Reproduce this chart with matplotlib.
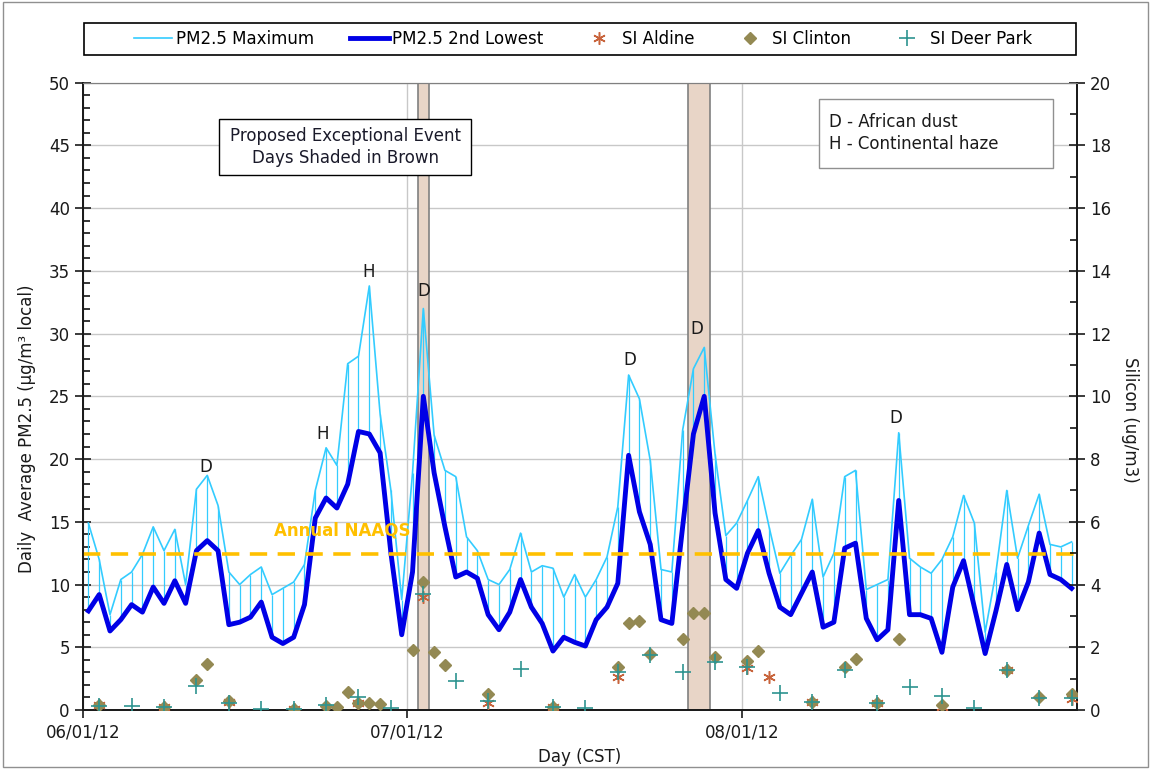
import matplotlib.pyplot as plt
import matplotlib.dates as mdates
from matplotlib.patches import Rectangle
from matplotlib.ticker import MultipleLocator
import numpy as np
import pandas as pd

# daily values, 06/01/12 .. 08/31/12 (plotted at midday)
days = pd.date_range('2012-06-01 12:00', periods=92, freq='D')

pm25_max = [14.9, 12.0, 7.6, 10.4, 11.0, 12.4, 14.6, 12.7, 14.4, 10.0,
            17.6, 18.7, 16.3, 11.0, 10.0, 10.8, 11.4, 9.2, 9.7, 10.2,
            11.6, 17.5, 20.9, 19.5, 27.6, 28.2, 33.8, 23.6, 17.5, 8.8,
            18.9, 32.0, 21.9, 19.1, 18.6, 13.8, 12.7, 10.4, 10.0, 11.2,
            14.1, 11.0, 11.5, 11.3, 9.0, 10.8, 9.0, 10.4, 12.2, 16.2,
            26.7, 24.8, 19.9, 11.2, 11.0, 22.3, 27.2, 28.9, 20.4, 13.9,
            14.9, 16.7, 18.6, 14.6, 10.9, 12.3, 13.6, 16.8, 10.6, 12.5,
            18.6, 19.1, 9.6, 10.0, 10.4, 22.1, 12.1, 11.4, 10.9, 12.0,
            13.8, 17.1, 14.9, 6.2, 11.0, 17.5, 12.1, 14.7, 17.2, 13.2,
            13.0, 13.4]

pm25_2nd_low = [7.9, 9.2, 6.3, 7.2, 8.4, 7.8, 9.8, 8.5, 10.3, 8.5,
                12.7, 13.5, 12.7, 6.8, 7.0, 7.4, 8.6, 5.8, 5.3, 5.8,
                8.4, 15.3, 16.9, 16.1, 18.0, 22.2, 22.0, 20.5, 12.5, 6.0,
                11.0, 25.0, 18.9, 14.6, 10.6, 11.0, 10.5, 7.6, 6.4, 7.8,
                10.4, 8.2, 6.9, 4.7, 5.8, 5.4, 5.1, 7.2, 8.2, 10.1,
                20.3, 15.8, 13.2, 7.2, 6.9, 14.6, 22.0, 25.0, 15.7, 10.4,
                9.7, 12.5, 14.3, 10.9, 8.2, 7.6, 9.3, 11.0, 6.6, 7.0,
                12.9, 13.3, 7.3, 5.6, 6.4, 16.7, 7.6, 7.6, 7.3, 4.6,
                9.8, 11.9, 8.2, 4.5, 7.9, 11.6, 8.0, 10.2, 14.1, 10.8,
                10.4, 9.7]

# silicon samples (day index, ug/m3)
aldine_day = [1, 7, 13, 19, 25, 31, 37, 43, 49, 61, 63, 67, 73, 79, 85, 91]
aldine_si = [0.15, 0.1, 0.25, 0.03, 0.21, 3.6, 0.23, 0.1, 1.06, 1.35, 1.06,
             0.27, 0.21, 0.1, 1.28, 0.34]

clinton_day = [1, 7, 10, 11, 13, 19, 22, 23, 24, 25, 26, 27, 30, 31, 32, 33,
               37, 43, 49, 50, 51, 52, 55, 56, 57, 58, 61, 62, 67, 70, 71, 73,
               75, 79, 85, 88, 91]
clinton_si = [0.15, 0.1, 0.96, 1.47, 0.29, 0.03, 0.14, 0.1, 0.56, 0.23, 0.21,
              0.18, 1.91, 4.09, 1.84, 1.43, 0.51, 0.1, 1.38, 2.78, 2.84, 1.77,
              2.25, 3.08, 3.08, 1.70, 1.57, 1.88, 0.27, 1.36, 1.62, 0.21, 2.25,
              0.16, 1.28, 0.43, 0.51]

deerpark_day = [1, 4, 7, 10, 13, 16, 19, 22, 25, 28, 31, 34, 37, 40, 43, 46,
                49, 52, 55, 58, 61, 64, 67, 70, 73, 76, 79, 82, 85, 88, 91]
deerpark_si = [0.14, 0.14, 0.1, 0.76, 0.22, 0.02, 0.03, 0.15, 0.43, 0.05, 3.7,
               0.94, 0.3, 1.31, 0.1, 0.05, 1.2, 1.75, 1.22, 1.54, 1.38, 0.55,
               0.27, 1.28, 0.21, 0.74, 0.45, 0.05, 1.28, 0.39, 0.37]

naaqs = 12.4

# exceptional event days (shaded)
event_spans = [('2012-07-02', '2012-07-03'), ('2012-07-27', '2012-07-29')]

# event type labels (day offset from 06/01, y, text)
event_labels = [(11.4, 19.4, 'D'), (22.2, 22.0, 'H'), (26.4, 34.9, 'H'),
                (31.5, 33.4, 'D'), (50.6, 27.9, 'D'), (56.8, 30.4, 'D'),
                (75.2, 23.3, 'D')]

plt.rcParams['font.family'] = 'DejaVu Sans'
plt.rcParams['font.size'] = 12

fig = plt.figure(figsize=(11.51, 7.69), dpi=100)
ax = fig.add_axes([0.0721, 0.0767, 0.8636, 0.8158])
ax2 = ax.twinx()

start = pd.Timestamp('2012-06-01')
for s, e in event_spans:
    ax.axvspan(pd.Timestamp(s), pd.Timestamp(e), facecolor='#E8D5C7',
               edgecolor='#808080', lw=1.2, zorder=1)

ax.vlines(days, pm25_2nd_low, pm25_max, color='#33CCFF', lw=0.9, zorder=2)
ax.plot(days, pm25_max, color='#33CCFF', lw=1.2, zorder=3,
        label='PM2.5 Maximum')
ax.plot(days, pm25_2nd_low, color='#0000E6', lw=3.5, zorder=4,
        solid_joinstyle='round', label='PM2.5 2nd Lowest')
ax.axhline(naaqs, color='#FFC000', lw=2.6, dashes=(4.8, 2.9), zorder=5)
ax.text(start + pd.Timedelta(days=17.7), 14.3, 'Annual NAAQS', color='#FFC000',
        fontweight='bold', fontsize=12, ha='left', va='center', zorder=6)

for off, y, t in event_labels:
    ax.text(start + pd.Timedelta(days=off), y, t, ha='center', va='center',
            fontsize=12, color='#1a1a1a', zorder=6)

# text boxes
ax.add_patch(Rectangle((0.1368, 0.8529), 0.2535, 0.0893, transform=ax.transAxes,
                       facecolor='white', edgecolor='black', lw=1, zorder=6))
ax.text(0.2636, 0.8975, 'Proposed Exceptional Event\nDays Shaded in Brown',
        transform=ax.transAxes, ha='center', va='center', fontsize=12,
        color='#1a1a2a', linespacing=1.25, zorder=7)
ax.add_patch(Rectangle((0.7404, 0.864), 0.2354, 0.110, transform=ax.transAxes,
                       facecolor='white', edgecolor='#909090', lw=1, zorder=6))
ax.text(0.7505, 0.9198, 'D - African dust\nH - Continental haze',
        transform=ax.transAxes, ha='left', va='center', fontsize=12,
        color='#1a1a1a', linespacing=1.25, zorder=7)

# silicon on right axis
ax2.plot(days[aldine_day], aldine_si, ls='none', marker=(6, 2, 0), ms=9,
         mew=1.1, color='#C8643C', label='SI Aldine', zorder=3)
ax2.plot(days[clinton_day], clinton_si, ls='none', marker='D', ms=6.5,
         color='#938953', label='SI Clinton', zorder=4)
ax2.plot(days[deerpark_day], deerpark_si, ls='none', marker='+', ms=11,
         mew=1.2, color='#2E9490', label='SI Deer Park', zorder=5)

# axes
ax.set_xlim(start, pd.Timestamp('2012-09-01'))
ax.set_xticks([pd.Timestamp('2012-06-01'), pd.Timestamp('2012-07-01'),
               pd.Timestamp('2012-08-01')])
ax.xaxis.set_major_formatter(mdates.DateFormatter('%m/%d/%y'))
ax.set_ylim(0, 50)
ax.yaxis.set_major_locator(MultipleLocator(5))
ax.yaxis.set_minor_locator(MultipleLocator(1))
ax2.set_ylim(0, 20)
ax2.yaxis.set_major_locator(MultipleLocator(2))
ax2.yaxis.set_minor_locator(MultipleLocator(1))

ax.grid(True, which='major', color='#C8C8C8', lw=1)
ax.set_axisbelow(True)
ax.tick_params(axis='y', which='major', direction='inout', length=11,
               width=1.2, labelsize=12, pad=4, colors='#1a1a1a')
ax.tick_params(axis='y', which='minor', direction='in', length=5, width=1.1)
ax.tick_params(axis='x', which='major', direction='out', length=6, width=1.2,
               labelsize=12, pad=4, colors='#1a1a1a')
ax2.tick_params(axis='y', which='major', direction='inout', length=11,
                width=1.2, labelsize=12, pad=4, colors='#1a1a1a')
ax2.tick_params(axis='y', which='minor', direction='in', length=5, width=1.1)

for sp in ['left', 'right', 'bottom']:
    ax.spines[sp].set_color('#1a1a1a')
    ax.spines[sp].set_linewidth(1.3)
    ax2.spines[sp].set_color('#1a1a1a')
    ax2.spines[sp].set_linewidth(1.3)
ax.spines['top'].set_color('#808080')
ax2.spines['top'].set_color('#808080')

ax.set_xlabel('Day (CST)', fontsize=12, color='#1a1a1a')
ax.xaxis.set_label_coords(0.5, -0.061)
ax.set_ylabel('Daily  Average PM2.5 (µg/m³ local)', fontsize=12,
              color='#1a1a1a')
ax.yaxis.set_label_coords(-0.047, 0.448)
ax2.set_ylabel('Silicon (ug/m3)', fontsize=12, rotation=270, va='center',
               color='#1a1a1a')
ax2.yaxis.set_label_coords(1.053, 0.462)

# legend box above the plot
fig.patches.append(Rectangle((0.073, 0.9285), 0.862, 0.0416,
                             transform=fig.transFigure, fill=False,
                             edgecolor='black', lw=1.2))
h1, l1 = ax.get_legend_handles_labels()
h2, l2 = ax2.get_legend_handles_labels()
fig.legend(h1 + h2, l1 + l2, loc='center', bbox_to_anchor=(0.5065, 0.9493),
           ncol=5, fontsize=12, frameon=False, handlelength=2.3,
           handletextpad=0.2, columnspacing=2.2, borderaxespad=0)

fig.patches.append(Rectangle((0.003, 0.003), 0.994, 0.994,
                             transform=fig.transFigure, fill=False,
                             edgecolor='#909090', lw=1))

fig.savefig('out.png', dpi=100)
